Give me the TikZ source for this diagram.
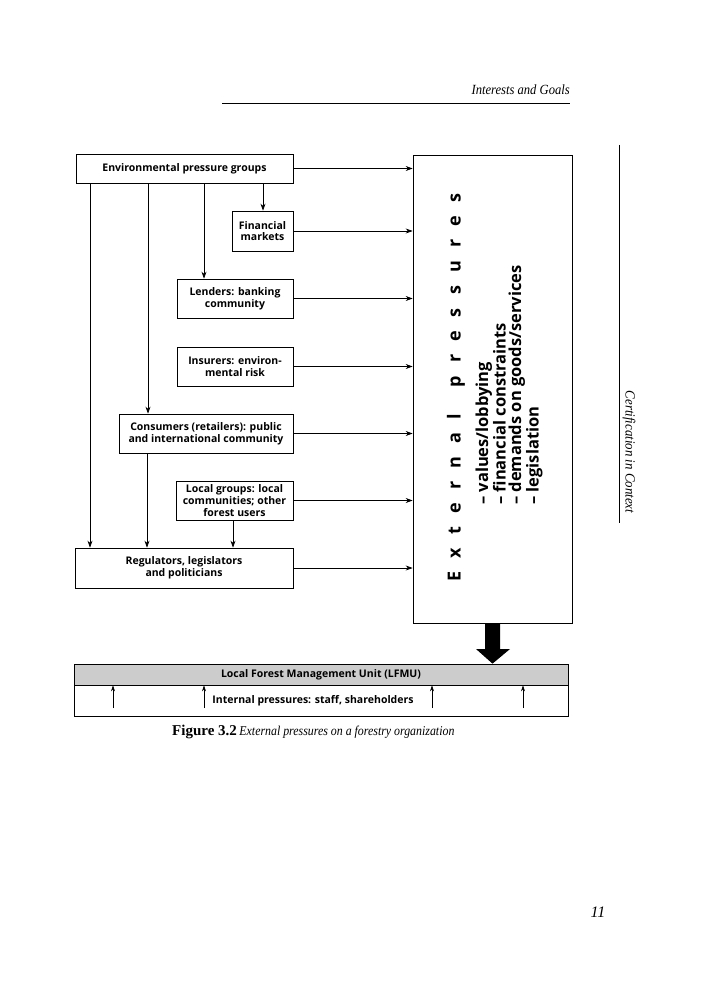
\documentclass[tikz,border=0pt]{standalone}
\usepackage{fontspec}
\setmainfont{Liberation Serif}
\newfontfamily\gill{Open Sans}
\usetikzlibrary{arrows.meta}
\begin{document}
\begin{tikzpicture}[x=1pt,y=-1pt,
  box/.style={draw,line width=0.7pt,inner sep=0pt,align=center,font=\gill\bfseries\fontsize{10.5}{11.8}\selectfont},
  conn/.style={line width=0.7pt,-{Stealth[length=7pt,width=5pt]}},
  thinarr/.style={line width=0.6pt,-{Stealth[length=6pt,width=4pt]}},
  serifit/.style={font=\itshape\fontsize{14}{16}\selectfont}]
\useasboundingbox (0,0) rectangle (714,1000);
% header and margins
\node[serifit,anchor=base east,inner sep=0pt] (hdr) at (570,95) {\scalebox{0.9}[1]{Interests and Goals}};
\draw[line width=0.8pt] (222,103) coordinate (hl) -- (570,103) coordinate (hr);
\draw[line width=0.8pt] (619,145) coordinate (vt) -- (619,523) coordinate (vb);
\node[serifit,rotate=-90,anchor=center,inner sep=0pt] (side) at (629,452) {\scalebox{0.92}[1]{Certification in Context}};
\node[font=\itshape\fontsize{16}{18}\selectfont] (pg) at (598,912) {11};
% boxes
\node[box,minimum width=217pt,minimum height=29pt] (env) at (184.5,168.5) {Environmental pressure groups};
\node[box,minimum width=61pt,minimum height=40pt] (fin) at (262.5,231) {Financial\\markets};
\node[box,minimum width=116pt,minimum height=39pt] (lend) at (235,298.5) {Lenders: banking\\community};
\node[box,minimum width=116pt,minimum height=39pt] (ins) at (235,366.5) {Insurers: environ-\\mental risk};
\node[box,minimum width=174pt,minimum height=39pt] (cons) at (206,433.5) {Consumers (retailers): public\\and international community};
\node[box,minimum width=117pt,minimum height=39pt] (local) at (234.5,500.5) {Local groups: local\\communities; other\\forest users};
\node[box,minimum width=218pt,minimum height=40pt] (reg) at (184,568) {Regulators, legislators\\and politicians};
\node[draw,line width=0.7pt,minimum width=159pt,minimum height=468pt,inner sep=0pt] (big) at (492.5,389) {};
% External pressures text
\node[rotate=90,font=\gill\bfseries\fontsize{18}{20}\selectfont,inner sep=0pt] (ext) at (456,387.5)
  {\makebox[388pt][s]{E\hfill x\hfill t\hfill e\hfill r\hfill n\hfill a\hfill l\hfill\hfill p\hfill r\hfill e\hfill s\hfill s\hfill u\hfill r\hfill e\hfill s}};
\node[rotate=90,anchor=west,align=left,inner sep=0pt,font=\gill\bfseries\fontsize{16.5}{15.5}\selectfont] (list) at (509,505)
  {– values/lobbying\\– financial constraints\\– demands on goods/services\\– legislation};
% arrows to big box
\foreach \n in {env,fin,lend,ins,cons,local,reg}{
  \draw[conn] (\n.east) -- (\n.east -| big.west);
}
% vertical connections
\draw[conn] (env.south -| 90,0) -- (reg.north -| 90,0);
\draw[conn] (env.south -| 148,0) -- (cons.north -| 148,0);
\draw[conn] (env.south -| 204,0) -- (lend.north -| 204,0);
\draw[conn] (env.south -| 263,0) -- (fin.north -| 263,0);
\draw[conn] (cons.south -| 147,0) -- (reg.north -| 147,0);
\draw[conn] (local.south -| 233,0) -- (reg.north -| 233,0);
% LFMU
\node[draw,line width=0.7pt,fill=black!20,minimum width=494pt,minimum height=21pt,inner sep=0pt,
  font=\gill\bfseries\fontsize{10.5}{12}\selectfont] (lfmu) at (321,674.5) {Local Forest Management Unit (LFMU)};
\node[draw,line width=0.7pt,minimum width=494pt,minimum height=31pt,inner sep=0pt,anchor=north] (intl) at (lfmu.south) {};
\node[font=\gill\bfseries\fontsize{10.5}{12}\selectfont] (inttxt) at (313,701) {Internal pressures: staff, shareholders};
\foreach \x in {113,204,432,523}{
  \draw[thinarr] (\x,708) -- (lfmu.south -| \x,0);
}
% big arrow
\fill (big.south -| 485,0) -- (485,649) -- (476,649) -- (lfmu.north -| 492.5,0) -- (510,649) -- (500,649) -- (big.south -| 500,0) -- cycle;
% caption
\node[anchor=base west,inner sep=0pt] (cap) at (172,735)
  {{\bfseries\fontsize{15}{17}\selectfont Figure 3.2} \scalebox{0.88}[1]{\itshape\fontsize{13.5}{15}\selectfont External pressures on a forestry organization}};
\end{tikzpicture}
\end{document}
